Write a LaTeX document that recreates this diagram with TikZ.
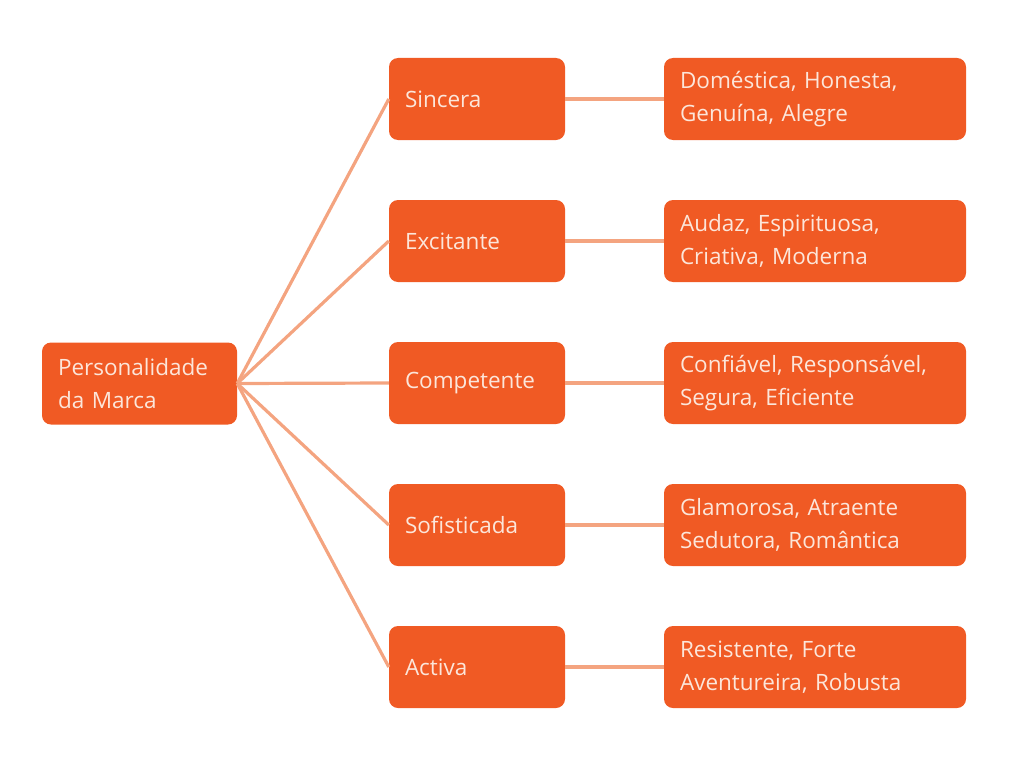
\documentclass[tikz,border=0pt]{standalone}
\usepackage{fontspec}
\setmainfont{Open Sans}
\definecolor{boxor}{HTML}{F05A24}
\definecolor{lineor}{HTML}{F4A480}
\definecolor{txtc}{HTML}{FCE6DA}
\begin{document}
\begin{tikzpicture}[x=1pt,y=-1pt,
  box/.style={fill=boxor,rounded corners=9pt,minimum height=82pt,text=txtc,
    font=\fontsize{22.5}{33}\selectfont,align=left,inner xsep=16pt,anchor=center},
  rootbox/.style={box,text width=163pt,minimum width=195pt},
  midbox/.style={box,text width=144pt,minimum width=176pt},
  rightbox/.style={box,text width=270pt,minimum width=302pt},
  conn/.style={draw=lineor,line width=3.2pt}]
\useasboundingbox (0,0) rectangle (1024,768);
\node[rootbox] (root) at (139.5,383.5) {Personalidade\\da Marca};
\node[midbox] (m1) at (477,99) {Sincera};
\node[midbox] (m2) at (477,241) {Excitante};
\node[midbox] (m3) at (477,383) {Competente};
\node[midbox] (m4) at (477,525) {Sofisticada};
\node[midbox] (m5) at (477,667) {Activa};
\node[rightbox] (r1) at (815,99) {Doméstica, Honesta,\\Genuína, Alegre};
\node[rightbox] (r2) at (815,241) {Audaz, Espirituosa,\\Criativa, Moderna};
\node[rightbox] (r3) at (815,383) {Confiável, Responsável,\\Segura, Eficiente};
\node[rightbox] (r4) at (815,525) {Glamorosa, Atraente\\Sedutora, Romântica};
\node[rightbox] (r5) at (815,667) {Resistente, Forte\\Aventureira, Robusta};
\foreach \i in {1,...,5}{
  \draw[conn] (root.east) -- (m\i.west);
  \draw[conn] (m\i.east) -- (r\i.west);
}
\end{tikzpicture}
\end{document}
